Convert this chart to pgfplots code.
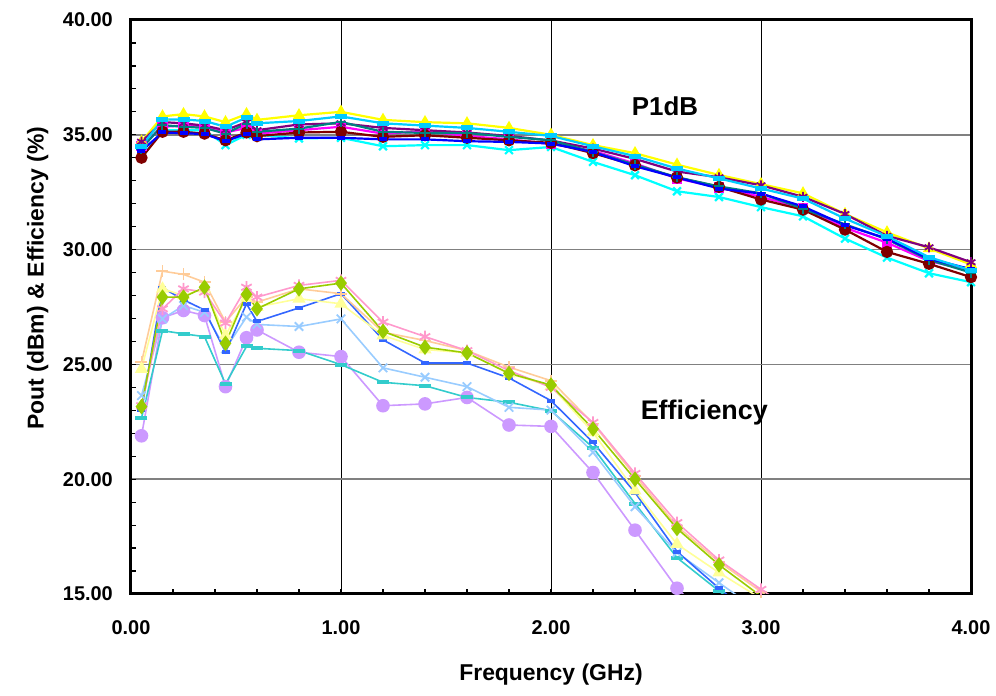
\documentclass[border=0pt]{standalone}
\usepackage{fontspec}
\setmainfont{Liberation Sans}
\usepackage{pgfplots}
\pgfplotsset{compat=1.18}
\definecolor{cMag}{HTML}{FF00FF}
\definecolor{cYel}{HTML}{FFFF00}
\definecolor{cCya}{HTML}{00FFFF}
\definecolor{cPur}{HTML}{800080}
\definecolor{cMar}{HTML}{800000}
\definecolor{cTea}{HTML}{008080}
\definecolor{cBlu}{HTML}{0000FF}
\definecolor{cSky}{HTML}{00CCFF}
\definecolor{eOra}{HTML}{FFCC99}
\definecolor{eYel}{HTML}{FFFF99}
\definecolor{ePin}{HTML}{FF99CC}
\definecolor{eGre}{HTML}{99CC00}
\definecolor{eBlu}{HTML}{3366FF}
\definecolor{eSky}{HTML}{99CCFF}
\definecolor{eTur}{HTML}{33CCCC}
\definecolor{eLav}{HTML}{CC99FF}
\begin{document}
\begin{tikzpicture}[x=1bp,y=1bp]
\useasboundingbox (-131,-102) rectangle (865,594);
\begin{axis}[
  at={(0,0)}, anchor=south west,
  scale only axis, width=840bp, height=574bp,
  xmin=0, xmax=4, ymin=15, ymax=40,
  xtick={0,1,2,3,4}, ytick={15,20,25,30,35,40},
  minor x tick num=4, minor y tick num=4,
  tick pos=left, tick align=inside,
  major tick length=5bp, minor tick length=5bp,
  tick style={black, line width=1.2bp},
  axis line style={line width=3bp},
  grid=major,
  major x grid style={black, line width=0.8bp},
  major y grid style={gray, line width=1.6bp},
  /pgf/number format/.cd, fixed, fixed zerofill, precision=2, assume math mode=true,
  /pgfplots/.cd,
  ticklabel style={font=\bfseries\fontsize{20}{24}\selectfont},
  xticklabel style={anchor=center, yshift=-34bp},
  yticklabel style={anchor=east, inner sep=0pt, xshift=-18bp},
  xlabel={Frequency (GHz)},
  ylabel={Pout (dBm) \& Efficiency (\%)},
  label style={font=\bfseries\fontsize{23}{27}\selectfont},
  xlabel style={at={(axis description cs:0.5,0)}, anchor=center, yshift=-81bp},
  ylabel style={at={(axis description cs:-0.111,0.55)}, anchor=center},
  every axis plot/.append style={line width=2.2bp, mark size=5bp, mark options={solid}},
]
% ---------- P1dB ----------
\addplot[color=cCya, mark=x, mark size=5.5bp, mark options={line width=2.2bp}] coordinates {
(0.05,34.0)(0.15,35.2)(0.25,35.2)(0.35,35.2)(0.45,34.55)(0.55,35.0)(0.6,35.0)(0.8,34.84)(1.0,34.87)(1.2,34.5)(1.4,34.55)(1.6,34.55)(1.8,34.33)(2.0,34.47)(2.2,33.82)(2.4,33.24)(2.6,32.54)(2.8,32.29)(3.0,31.85)(3.2,31.45)(3.4,30.48)(3.6,29.65)(3.8,28.97)(4.0,28.58)};
\addplot[color=cMag, mark=square*, mark size=4bp] coordinates {
(0.05,34.5)(0.15,35.35)(0.25,35.4)(0.35,35.35)(0.45,35.1)(0.55,35.3)(0.6,35.05)(0.8,35.2)(1.0,35.35)(1.2,35.05)(1.4,35.15)(1.6,34.95)(1.8,34.8)(2.0,34.6)(2.2,34.3)(2.4,33.75)(2.6,33.1)(2.8,32.7)(3.0,32.3)(3.2,31.8)(3.4,30.95)(3.6,30.3)(3.8,29.5)(4.0,29.1)};
\addplot[color=cYel, mark=triangle*] coordinates {
(0.05,34.7)(0.15,35.8)(0.25,35.9)(0.35,35.8)(0.45,35.55)(0.55,35.9)(0.6,35.65)(0.8,35.85)(1.0,36.0)(1.2,35.65)(1.4,35.55)(1.6,35.5)(1.8,35.3)(2.0,35.0)(2.2,34.55)(2.4,34.2)(2.6,33.7)(2.8,33.25)(3.0,32.85)(3.2,32.45)(3.4,31.55)(3.6,30.75)(3.8,30.05)(4.0,29.35)};
\addplot[color=cPur, mark=asterisk, mark options={line width=1.8bp}] coordinates {
(0.05,34.7)(0.15,35.55)(0.25,35.5)(0.35,35.4)(0.45,35.2)(0.55,35.55)(0.6,35.2)(0.8,35.45)(1.0,35.5)(1.2,35.3)(1.4,35.2)(1.6,35.1)(1.8,34.95)(2.0,34.75)(2.2,34.4)(2.4,33.95)(2.6,33.4)(2.8,33.15)(3.0,32.8)(3.2,32.3)(3.4,31.55)(3.6,30.6)(3.8,30.1)(4.0,29.45)};
\addplot[color=cMar, mark=*] coordinates {
(0.05,34.0)(0.15,35.13)(0.25,35.13)(0.35,35.05)(0.45,34.76)(0.55,35.1)(0.6,34.94)(0.8,35.1)(1.0,35.13)(1.2,34.91)(1.4,34.98)(1.6,34.87)(1.8,34.76)(2.0,34.65)(2.2,34.2)(2.4,33.67)(2.6,33.14)(2.8,32.73)(3.0,32.18)(3.2,31.74)(3.4,30.87)(3.6,29.9)(3.8,29.38)(4.0,28.8)};
\addplot[color=cTea, mark=+, mark options={line width=2bp}] coordinates {
(0.05,34.4)(0.15,35.42)(0.25,35.35)(0.35,35.3)(0.45,35.05)(0.55,35.49)(0.6,35.13)(0.8,35.27)(1.0,35.56)(1.2,35.13)(1.4,35.08)(1.6,35.08)(1.8,34.91)(2.0,34.76)(2.2,34.25)(2.4,33.7)(2.6,33.15)(2.8,32.75)(3.0,32.45)(3.2,31.78)(3.4,31.1)(3.6,30.45)(3.8,29.55)(4.0,29.0)};
\addplot[color=cBlu, mark=-, mark size=4bp, mark options={line width=4bp}] coordinates {
(0.05,34.3)(0.15,35.1)(0.25,35.07)(0.35,35.03)(0.45,34.72)(0.55,35.05)(0.6,34.8)(0.8,34.87)(1.0,34.87)(1.2,34.8)(1.4,34.8)(1.6,34.72)(1.8,34.69)(2.0,34.62)(2.2,34.25)(2.4,33.63)(2.6,33.14)(2.8,32.66)(3.0,32.44)(3.2,31.88)(3.4,31.06)(3.6,30.48)(3.8,29.6)(4.0,29.15)};
\addplot[color=cSky, mark=-, mark size=6bp, mark options={line width=5bp}] coordinates {
(0.05,34.5)(0.15,35.67)(0.25,35.67)(0.35,35.6)(0.45,35.35)(0.55,35.75)(0.6,35.5)(0.8,35.6)(1.0,35.8)(1.2,35.5)(1.4,35.4)(1.6,35.3)(1.8,35.13)(2.0,34.95)(2.2,34.5)(2.4,34.07)(2.6,33.53)(2.8,33.1)(3.0,32.66)(3.2,32.22)(3.4,31.35)(3.6,30.58)(3.8,29.67)(4.0,29.1)};
% ---------- Efficiency ----------
\addplot[color=eLav, line width=1.6bp, mark=*, mark size=6bp] coordinates {
(0.05,21.89)(0.15,27.03)(0.25,27.35)(0.35,27.13)(0.45,24.03)(0.55,26.16)(0.6,26.5)(0.8,25.53)(1.0,25.34)(1.2,23.2)(1.4,23.28)(1.6,23.56)(1.8,22.36)(2.0,22.3)(2.2,20.29)(2.4,17.78)(2.6,15.25)(2.8,13.5)};
\addplot[color=eTur, line width=1.6bp, mark=-, mark size=6bp, mark options={line width=4bp}] coordinates {
(0.05,22.66)(0.15,26.47)(0.25,26.33)(0.35,26.21)(0.45,24.15)(0.55,25.78)(0.6,25.7)(0.8,25.6)(1.0,24.99)(1.2,24.22)(1.4,24.07)(1.6,23.56)(1.8,23.35)(2.0,22.98)(2.2,21.38)(2.4,18.94)(2.6,16.58)(2.8,15.13)(3.0,13.8)};
\addplot[color=eSky, line width=1.6bp, mark=x, mark size=6bp, mark options={line width=1.8bp}] coordinates {
(0.05,23.64)(0.15,26.98)(0.25,27.56)(0.35,27.27)(0.45,25.68)(0.55,27.06)(0.6,26.74)(0.8,26.65)(1.0,26.98)(1.2,24.85)(1.4,24.44)(1.6,24.03)(1.8,23.13)(2.0,23.01)(2.2,21.17)(2.4,18.8)(2.6,16.8)(2.8,15.49)(3.0,14.2)};
\addplot[color=eBlu, line width=1.6bp, mark=-, mark size=4bp, mark options={line width=4bp}] coordinates {
(0.05,23.0)(0.15,28.34)(0.25,27.81)(0.35,27.37)(0.45,25.53)(0.55,27.64)(0.6,26.87)(0.8,27.46)(1.0,28.08)(1.2,26.07)(1.4,25.06)(1.6,25.06)(1.8,24.41)(2.0,23.42)(2.2,21.6)(2.4,19.42)(2.6,16.85)(2.8,15.25)(3.0,13.8)};
\addplot[color=eOra, line width=1.6bp, mark=+, mark size=6bp, mark options={line width=1.8bp}] coordinates {
(0.05,25.09)(0.15,29.06)(0.25,28.92)(0.35,28.58)(0.45,26.84)(0.55,27.93)(0.6,27.71)(0.8,28.29)(1.0,28.08)(1.2,26.4)(1.4,26.04)(1.6,25.6)(1.8,24.88)(2.0,24.29)(2.2,22.43)(2.4,20.15)(2.6,17.95)(2.8,16.4)(3.0,15.1)(3.2,13.8)};
\addplot[color=eYel, line width=1.6bp, mark=triangle*, mark size=6bp] coordinates {
(0.05,24.8)(0.15,28.29)(0.25,28.0)(0.35,28.3)(0.45,26.26)(0.55,27.9)(0.6,27.5)(0.8,27.86)(1.0,27.64)(1.2,26.26)(1.4,25.65)(1.6,25.5)(1.8,24.6)(2.0,24.05)(2.2,22.04)(2.4,19.5)(2.6,17.17)(2.8,15.93)(3.0,14.8)};
\addplot[color=ePin, line width=1.6bp, mark=asterisk, mark size=6bp, mark options={line width=1.8bp}] coordinates {
(0.05,23.2)(0.15,27.42)(0.25,28.29)(0.35,28.15)(0.45,26.8)(0.55,28.36)(0.6,27.93)(0.8,28.44)(1.0,28.66)(1.2,26.84)(1.4,26.21)(1.6,25.6)(1.8,24.73)(2.0,24.0)(2.2,22.47)(2.4,20.25)(2.6,18.11)(2.8,16.48)(3.0,15.2)(3.2,14.0)};
\addplot[color=eGre, line width=1.6bp, mark=diamond*, mark size=6.5bp] coordinates {
(0.05,23.16)(0.15,27.93)(0.25,27.93)(0.35,28.36)(0.45,25.92)(0.55,28.05)(0.6,27.42)(0.8,28.29)(1.0,28.54)(1.2,26.44)(1.4,25.75)(1.6,25.5)(1.8,24.61)(2.0,24.1)(2.2,22.19)(2.4,20.0)(2.6,17.85)(2.8,16.27)(3.0,14.9)};
\node[font=\bfseries\fontsize{26}{30}\selectfont] at (axis cs:2.543,36.25) {P1dB};
\node[font=\bfseries\fontsize{27}{31}\selectfont] at (axis cs:2.73,22.9) {Efficiency};
\end{axis}
\end{tikzpicture}
\end{document}
